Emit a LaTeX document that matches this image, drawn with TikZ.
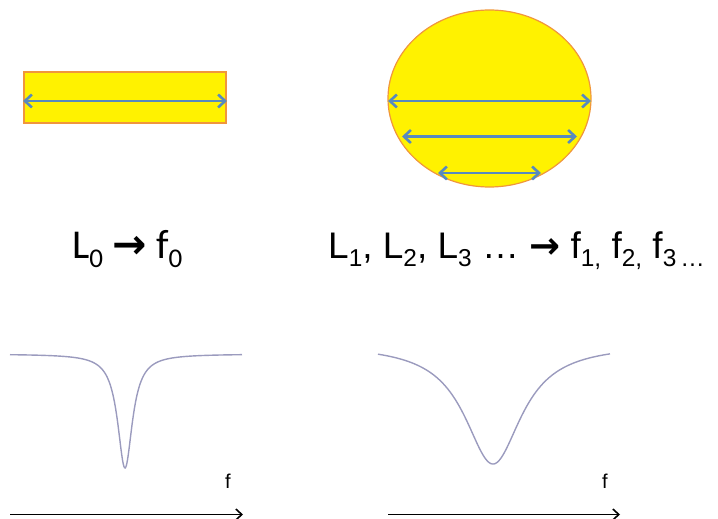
\documentclass[tikz,border=0pt]{standalone}
\usepackage{fontspec}
\setmainfont{Liberation Sans}
\newfontfamily\calfont{Carlito}
\newfontfamily\arrfont{DejaVu Sans}
\usetikzlibrary{arrows.meta}
\definecolor{barblue}{RGB}{88,138,190}
\definecolor{shapeborder}{RGB}{240,150,60}
\definecolor{curvecol}{RGB}{155,155,190}
\newcommand{\mysub}[1]{\raisebox{-0.22em}{\scalebox{0.66}{#1}}}
\tikzset{
  widthbar/.style={barblue, line width=2.6pt, {Straight Barb[length=7pt,width=13pt]}-{Straight Barb[length=7pt,width=13pt]}},
  faxis/.style={black, line width=1.6pt, -{Straight Barb[length=6pt,width=11pt]}},
  curve/.style={curvecol, line width=1.4pt},
  lbl/.style={inner sep=0pt, anchor=base west}
}
\begin{document}
\begin{tikzpicture}[x=1pt,y=-1pt]
\useasboundingbox (0,0) rectangle (718,519);
% rectangle
\node[draw=shapeborder, fill=yellow, line width=1.2pt, minimum width=202pt, minimum height=51pt, inner sep=0pt] (rect) at (125,97.5) {};
\coordinate (r1) at (23,101);
\coordinate (r2) at (227,101);
\draw[widthbar] (r1) -- (r2);
% circle
\draw[draw=shapeborder, fill=yellow, line width=1.2pt] (489.5,98.5) ellipse [x radius=101.5pt, y radius=88.5pt];
\coordinate (c1a) at (388,101);
\coordinate (c1b) at (591,101);
\coordinate (c2a) at (402,136.5);
\coordinate (c2b) at (577,136.5);
\coordinate (c3a) at (438,173);
\coordinate (c3b) at (541,173);
\draw[widthbar] (c1a) -- (c1b);
\draw[widthbar] (c2a) -- (c2b);
\draw[widthbar] (c3a) -- (c3b);
% labels
\node[lbl] (t0) at (72,258) {\fontsize{41}{41}\selectfont\calfont L\mysub{0} {\arrfont\bfseries →} f\mysub{0}};
\node[lbl] (t1) at (328,258) {\fontsize{37}{37}\selectfont L\mysub{1}, L\mysub{2}, L\mysub{3} … {\arrfont\bfseries →} f\mysub{1,} f\mysub{2,} f\mysub{3\,…}};
% curves
\draw[curve] plot[domain=10:242, samples=400, smooth] (\x, {354+114/(((\x-125)/9)^2+1)});
\draw[curve] plot[domain=378:610, samples=300, smooth] (\x, {344+120/(((\x-493)/35)^2+1)});
% f labels
\node[lbl, font=\fontsize{20}{20}\selectfont] (fl) at (225,488) {f};
\node[lbl, font=\fontsize{20}{20}\selectfont] (fr) at (602,488) {f};
% axes
\coordinate (a1) at (10,514.5);
\coordinate (a2) at (243,514.5);
\coordinate (b1) at (388,514.5);
\coordinate (b2) at (620,514.5);
\draw[faxis] (a1) -- (a2);
\draw[faxis] (b1) -- (b2);
\end{tikzpicture}
\end{document}
